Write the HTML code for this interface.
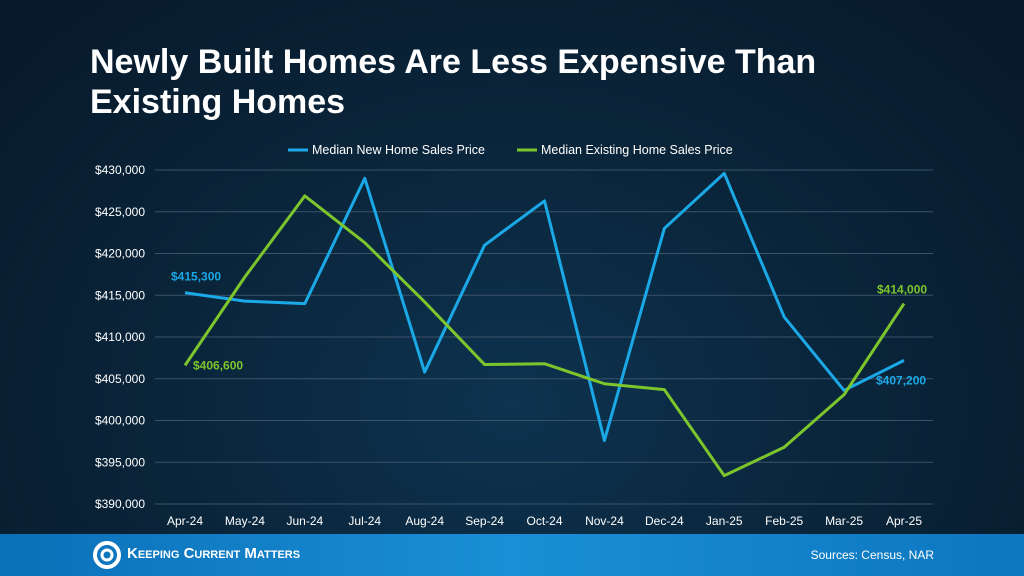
<!DOCTYPE html>
<html><head><meta charset="utf-8"><style>
html,body{margin:0;padding:0}
body{width:1024px;height:576px;overflow:hidden;position:relative;font-family:"Liberation Sans",sans-serif;background:radial-gradient(ellipse at 50% 70%,#0d3350 0%,#0a2439 50%,#07192a 100%)}
.title{position:absolute;left:90px;top:42px;color:#fff;font-size:34px;font-weight:bold;line-height:40px}
.footer{position:absolute;left:0;top:534px;width:1024px;height:42px;background:linear-gradient(90deg,#0a70b8,#1a8fd6 50%,#0c76bf)}
</style></head><body>
<div class="title">Newly Built Homes Are Less Expensive Than<br>Existing Homes</div>
<svg id="chart" width="1024" height="576" style="position:absolute;left:0;top:0"></svg>
<div class="footer">
<svg width="30" height="30" style="position:absolute;left:92px;top:6px"><circle cx="15" cy="15" r="12" fill="none" stroke="#fff" stroke-width="4"/><circle cx="15" cy="15" r="5" fill="none" stroke="#fff" stroke-width="3"/></svg>
<div style="position:absolute;left:127px;top:11px;color:#fff;font-size:15px;font-weight:bold;font-variant:small-caps">Keeping Current Matters</div>
<div style="position:absolute;right:90px;top:14px;color:#fff;font-size:12px">Sources: Census, NAR</div>
</div>
<script>
const categories=["Apr-24","May-24","Jun-24","Jul-24","Aug-24","Sep-24","Oct-24","Nov-24","Dec-24","Jan-25","Feb-25","Mar-25","Apr-25"];
const newHome=[415300,414300,414000,429000,405800,421000,426300,397600,423000,429600,412400,403600,407200];
const existingHome=[406600,417200,426900,421300,414200,406700,406800,404400,403700,393400,396800,403100,414000];
const yTicks=[390000,395000,400000,405000,410000,415000,420000,425000,430000];
const svg=document.getElementById('chart');const NS='http://www.w3.org/2000/svg';
const x0=185,x1=904,yMin=390000,yMax=430000,py0=504,py1=170;
const X=i=>x0+(x1-x0)*i/(categories.length-1);
const Y=v=>py0-(v-yMin)/(yMax-yMin)*(py0-py1);
function mk(t,a,txt){const e=document.createElementNS(NS,t);for(const k in a)e.setAttribute(k,a[k]);if(txt!=null)e.textContent=txt;svg.appendChild(e);return e;}
const fmt=v=>'$'+v.toLocaleString('en-US');
yTicks.forEach(v=>{
const g=mk('line',{x1:155,x2:933,y1:Y(v),y2:Y(v),stroke:'#3a5368','stroke-width':1});


const t=mk('text',{x:145,y:Y(v)+4,fill:'#fff','font-size':12,'text-anchor':'end'},fmt(v));


});
categories.forEach((c,i)=>{
const t=mk('text',{x:X(i),y:525,fill:'#fff','font-size':12,'text-anchor':'middle'},c);


});
function line(data,color,name){
const p=mk('polyline',{points:data.map((v,i)=>X(i)+','+Y(v)).join(' '),fill:'none',stroke:color,'stroke-width':3,'stroke-linejoin':'round'});


}
line(newHome,'#1ba8e6','new-home-line');
line(existingHome,'#7dc52c','existing-home-line');
const n=categories.length-1;
const l1=mk('text',{x:X(0)-14,y:Y(newHome[0])-12,fill:'#1ba8e6','font-size':12,'font-weight':'bold'},fmt(newHome[0]));

const l2=mk('text',{x:X(0)+8,y:Y(existingHome[0])+4,fill:'#7dc52c','font-size':12,'font-weight':'bold'},fmt(existingHome[0]));

const l3=mk('text',{x:X(n)-28,y:Y(newHome[n])+24,fill:'#1ba8e6','font-size':12,'font-weight':'bold'},fmt(newHome[n]));

const l4=mk('text',{x:X(n)-27,y:Y(existingHome[n])-10,fill:'#7dc52c','font-size':12,'font-weight':'bold'},fmt(existingHome[n]));

const lg1=mk('line',{x1:288,x2:308,y1:150,y2:150,stroke:'#1ba8e6','stroke-width':3});

const lt1=mk('text',{x:312,y:154,fill:'#fff','font-size':12.5},'Median New Home Sales Price');

const lg2=mk('line',{x1:517,x2:537,y1:150,y2:150,stroke:'#7dc52c','stroke-width':3});

const lt2=mk('text',{x:541,y:154,fill:'#fff','font-size':12.5},'Median Existing Home Sales Price');

</script>
</body></html>
